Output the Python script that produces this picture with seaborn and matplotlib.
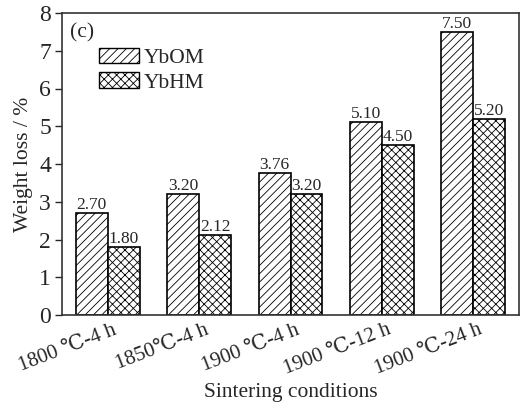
import matplotlib
matplotlib.use("Agg")
import matplotlib.pyplot as plt
import matplotlib.transforms as mtransforms
import seaborn as sns
import pandas as pd
from matplotlib.patches import Patch

categories = ["1800 ℃-4 h", "1850℃-4 h", "1900 ℃-4 h", "1900 ℃-12 h", "1900 ℃-24 h"]
ybom = [2.70, 3.20, 3.76, 5.10, 7.50]
ybhm = [1.80, 2.12, 3.20, 4.50, 5.20]
series = ["YbOM", "YbHM"]
hatches = ["////", "xxxx"]

df = pd.DataFrame({
    "cond": categories * 2,
    "val": ybom + ybhm,
    "series": [series[0]] * len(categories) + [series[1]] * len(categories),
})

sns.set_style("ticks")
plt.rcParams["font.family"] = ["Liberation Serif", "DejaVu Serif"]
plt.rcParams["hatch.linewidth"] = 0.6

fig = plt.figure(figsize=(5.21, 4.05), dpi=100)
ax = fig.add_axes([62/521, 1 - 315/405, (519-62)/521, (315-13)/405])

sns.barplot(data=df, x="cond", y="val", hue="series", order=categories,
            hue_order=series, palette=["white", "white"], width=0.7,
            edgecolor="black", linewidth=1.2, legend=False, ax=ax, saturation=1)

for i, cont in enumerate(ax.containers):
    for bar in cont:
        bar.set_hatch(hatches[i])
        bar.set_facecolor("white")
        bar.set_edgecolor("black")
    ax.bar_label(cont, labels=[f"{v:.2f}" for v in (ybom if i == 0 else ybhm)],
                 padding=0, fontsize=12.5)

ax.set_ylim(0, 8)
ax.set_xlim(-0.5, 4.5)
ax.set_yticks(range(0, 9))
ax.tick_params(axis="y", labelsize=17, direction="out", length=5, width=1, pad=3)
ax.tick_params(axis="x", length=0, labelsize=15, pad=4)
offset = mtransforms.ScaledTranslation(5/100, 0, fig.dpi_scale_trans)
for lbl in ax.get_xticklabels():
    lbl.set_rotation(21)
    lbl.set_ha("right")
    lbl.set_rotation_mode("anchor")
    lbl.set_transform(lbl.get_transform() + offset)
for sp in ax.spines.values():
    sp.set_linewidth(1.2)
    sp.set_color("#333333")

ax.set_xlabel("Sintering conditions", fontsize=15.5)
ax.xaxis.set_label_coords(0.5, (315 - 393) / 302)
ax.xaxis.label.set_va("center")
ax.set_ylabel("Weight loss / %", fontsize=15.5, labelpad=4)

ax.text(0.017, 0.965, "(c)", transform=ax.transAxes, fontsize=15.5, va="top", ha="left")

handles = [Patch(facecolor="white", edgecolor="black", hatch=h, linewidth=1) for h in hatches]
ax.legend(handles, series, loc="upper left", bbox_to_anchor=(0.08, 0.885),
          frameon=False, fontsize=15.5, handlelength=1.9, handleheight=0.75,
          handletextpad=0.2, labelspacing=0.2, borderaxespad=0, borderpad=0)

fig.savefig("out.png", dpi=100)
